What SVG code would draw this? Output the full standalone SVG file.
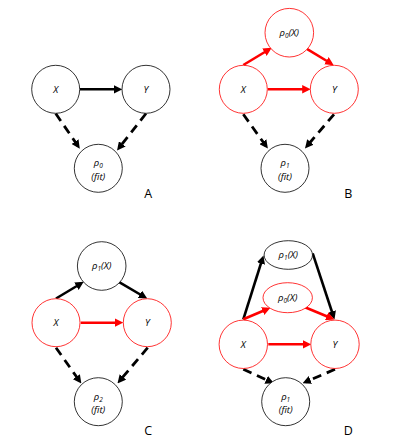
<svg xmlns="http://www.w3.org/2000/svg" width="415" height="448" viewBox="0 0 415 448">
<style>
.nb{fill:#fff;stroke:#000;stroke-width:0.8}
.nr{fill:#fff;stroke:#ff0000;stroke-width:0.8}
.t{font-family:"Open Sans","Liberation Sans",sans-serif;font-style:italic;font-size:9.5px;text-anchor:middle;fill:#000}
.s{font-size:6.5px}
.lab{font-family:"Open Sans","Liberation Sans",sans-serif;font-size:12.5px;text-anchor:middle;fill:#000}
.ab{stroke:#000;stroke-width:2.6;fill:none;marker-end:url(#hb)}
.ar{stroke:#ff0000;stroke-width:2.6;fill:none;marker-end:url(#hr)}
.ad{stroke:#000;stroke-width:2.8;fill:none;stroke-dasharray:9,6;marker-end:url(#hb)}
</style>
<defs>
<marker id="hb" viewBox="0 0 8 8" refX="5" refY="4" markerWidth="8.5" markerHeight="8.5" markerUnits="userSpaceOnUse" orient="auto"><path d="M0,0 L8,4 L0,8 z" fill="#000"/></marker>
<marker id="hr" viewBox="0 0 8 8" refX="5" refY="4" markerWidth="8.5" markerHeight="8.5" markerUnits="userSpaceOnUse" orient="auto"><path d="M0,0 L8,4 L0,8 z" fill="#ff0000"/></marker>
</defs>
<g id="connectors">
<line class="ab" x1="80" y1="89.3" x2="119" y2="89.3"/>
<line class="ad" x1="55.7" y1="113.5" x2="78" y2="146"/>
<line class="ad" x1="146" y1="113.5" x2="119" y2="148"/>
<line class="ar" x1="243.3" y1="65" x2="269" y2="49.5"/>
<line class="ar" x1="306" y1="48.3" x2="331" y2="63.5"/>
<line class="ar" x1="267.7" y1="89.3" x2="307.5" y2="89.3"/>
<line class="ad" x1="243.3" y1="114.3" x2="266" y2="146"/>
<line class="ad" x1="334" y1="114.3" x2="307" y2="146"/>
<line class="ab" x1="56" y1="298.5" x2="81" y2="283.5"/>
<line class="ab" x1="118.3" y1="281.7" x2="144.5" y2="297"/>
<line class="ar" x1="80.7" y1="322.7" x2="120" y2="322.7"/>
<line class="ad" x1="56" y1="347.7" x2="79.5" y2="381"/>
<line class="ad" x1="147.7" y1="347.7" x2="119.5" y2="381"/>
<line class="ab" x1="243.3" y1="319.3" x2="262.5" y2="258.5"/>
<line class="ab" x1="312.7" y1="253.3" x2="333.5" y2="316.5"/>
<line class="ar" x1="243.3" y1="319.3" x2="267.5" y2="309"/>
<line class="ar" x1="305" y1="307.3" x2="331.5" y2="318.3"/>
<line class="ar" x1="268.3" y1="344.3" x2="308" y2="344.3"/>
<line class="ad" x1="243.3" y1="369.3" x2="271" y2="382"/>
<line class="ad" x1="335" y1="369.3" x2="305.5" y2="382"/>
</g>
<g id="A_X"><circle class="nb" cx="55.7" cy="89.3" r="24"/><text class="t" x="55.7" y="92.5">X</text></g>
<g id="A_Y"><circle class="nb" cx="146" cy="89.3" r="24"/><text class="t" x="146" y="92.5">Y</text></g>
<g id="A_fit"><circle class="nb" cx="98.3" cy="168.3" r="24"/><text class="t" x="98.3" y="166">ρ<tspan class="s" dy="2">0</tspan></text><text class="t" x="98.3" y="179.5">(fit)</text></g>
<text class="lab" x="148.3" y="197.5">A</text>
<g id="B_rho0X"><circle class="nr" cx="289.3" cy="32.7" r="24.3"/><text class="t" x="289.3" y="36">ρ<tspan class="s" dy="2">0</tspan><tspan dy="-2">(X)</tspan></text></g>
<g id="B_X"><circle class="nr" cx="243.3" cy="89.3" r="24"/><text class="t" x="243.3" y="92.5">X</text></g>
<g id="B_Y"><circle class="nr" cx="334.3" cy="89.3" r="24"/><text class="t" x="334.3" y="92.5">Y</text></g>
<g id="B_fit"><circle class="nb" cx="285" cy="168.3" r="24"/><text class="t" x="285" y="166">ρ<tspan class="s" dy="2">1</tspan></text><text class="t" x="285" y="179.5">(fit)</text></g>
<text class="lab" x="348.3" y="197.5">B</text>
<g id="C_rho1X"><circle class="nb" cx="101.7" cy="266" r="24.3"/><text class="t" x="101.7" y="269.3">ρ<tspan class="s" dy="2">1</tspan><tspan dy="-2">(X)</tspan></text></g>
<g id="C_X"><circle class="nr" cx="56" cy="322.7" r="24"/><text class="t" x="56" y="326">X</text></g>
<g id="C_Y"><circle class="nr" cx="147.3" cy="322.7" r="24"/><text class="t" x="147.3" y="326">Y</text></g>
<g id="C_fit"><circle class="nb" cx="98.3" cy="401.7" r="24"/><text class="t" x="98.3" y="399.5">ρ<tspan class="s" dy="2">2</tspan></text><text class="t" x="98.3" y="413">(fit)</text></g>
<text class="lab" x="148.3" y="434.5">C</text>
<g id="D_rho1X"><ellipse class="nb" cx="288.3" cy="255" rx="24.2" ry="14.3"/><text class="t" x="288.3" y="258.3">ρ<tspan class="s" dy="2">1</tspan><tspan dy="-2">(X)</tspan></text></g>
<g id="D_rho0X"><ellipse class="nr" cx="287.7" cy="297.7" rx="24.7" ry="15"/><text class="t" x="287.7" y="301">ρ<tspan class="s" dy="2">0</tspan><tspan dy="-2">(X)</tspan></text></g>
<g id="D_X"><circle class="nr" cx="243.3" cy="344.3" r="24.2"/><text class="t" x="243.3" y="347.5">X</text></g>
<g id="D_Y"><circle class="nr" cx="335" cy="344.3" r="24.2"/><text class="t" x="335" y="347.5">Y</text></g>
<g id="D_fit"><circle class="nb" cx="285.7" cy="401.7" r="24"/><text class="t" x="285.7" y="399.5">ρ<tspan class="s" dy="2">1</tspan></text><text class="t" x="285.7" y="413">(fit)</text></g>
<text class="lab" x="348.3" y="434.5">D</text>
</svg>
